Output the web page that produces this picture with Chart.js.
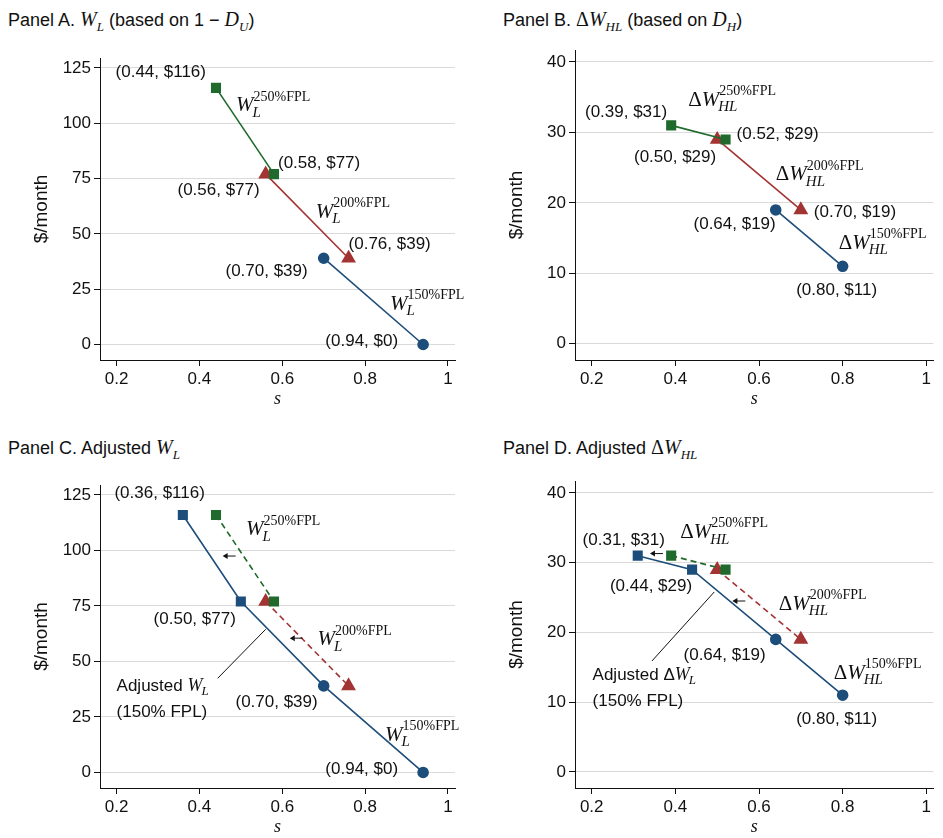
<!DOCTYPE html>
<html><head><meta charset="utf-8">
<script src="https://cdn.jsdelivr.net/npm/chart.js@4"></script>
<style>
body{margin:0;background:#fff;width:943px;height:838px;position:relative;overflow:hidden;font-family:"Liberation Sans",Arial,sans-serif}
canvas{position:absolute}
.t{position:absolute;font-size:18px;color:#111;white-space:nowrap}
.t i{font-family:"Liberation Serif",serif;font-size:20px}
.t sub{font-family:"Liberation Serif",serif;font-style:italic;font-size:13px}
.t span{font-family:"Liberation Serif",serif;font-size:20px}
</style></head><body>
<div class="t" style="left:8px;top:8px">Panel A. <i>W</i><sub>L</sub> (based on 1 − <i>D</i><sub>U</sub>)</div>
<div class="t" style="left:503px;top:8px">Panel B. <span>Δ</span><i>W</i><sub>HL</sub> (based on <i>D</i><sub>H</sub>)</div>
<div class="t" style="left:8px;top:436px">Panel C. Adjusted <i>W</i><sub>L</sub></div>
<div class="t" style="left:503px;top:436px">Panel D. Adjusted <span>Δ</span><i>W</i><sub>HL</sub></div>
<canvas id="a" width="471" height="419" style="left:0;top:0"></canvas>
<canvas id="b" width="471" height="419" style="left:471px;top:0"></canvas>
<canvas id="c" width="471" height="419" style="left:0;top:419px"></canvas>
<canvas id="d" width="471" height="419" style="left:471px;top:419px"></canvas>
<script>
// data
const xTicks = [0.2, 0.4, 0.6, 0.8, 1];
const wTicks = [0, 25, 50, 75, 100, 125];
const dTicks = [0, 10, 20, 30, 40];

const aGreen = [[0.44, 116], [0.58, 77]];
const aRed = [[0.56, 77], [0.76, 39]];
const aBlue = [[0.70, 39], [0.94, 0]];

const bGreen = [[0.39, 31], [0.52, 29]];
const bRed = [[0.50, 29], [0.70, 19]];
const bBlue = [[0.64, 19], [0.80, 11]];

const cAdjusted = [[0.36, 116], [0.50, 77], [0.70, 39], [0.94, 0]];
const dAdjusted = [[0.31, 31], [0.44, 29], [0.64, 19], [0.80, 11]];

const GREEN = '#1f6a2c', RED = '#a33434', BLUE = '#1d4d7a';
const LABEL_FONT = '17px "Liberation Sans"';

function pts(arr) { return arr.map(p => ({x: p[0], y: p[1]})); }
function seg(arr, color, style, dashed, styles) {
    const list = styles || arr.map(() => style);
    return {
        data: pts(arr), showLine: true, borderColor: color, backgroundColor: color,
        borderWidth: 1.6, borderDash: dashed ? [6, 4] : [],
        pointStyle: list, pointRadius: list.map(s => s === 'triangle' ? 7 : s === 'circle' ? 5 : 6),
        pointBorderColor: color, pointBackgroundColor: color
    };
}

// draws W_sub^sup with optional delta
function drawW(ctx, x, y, delta, sub, sup) {
    ctx.textBaseline = 'middle';
    ctx.textAlign = 'left';
    ctx.fillStyle = '#111';
    if (delta) {
        ctx.font = '21px "Liberation Serif"';
        ctx.fillText('Δ', x, y);
        x += ctx.measureText('Δ').width;
    }
    ctx.font = 'italic 21px "Liberation Serif"';
    ctx.fillText('W', x, y);
    x += ctx.measureText('W').width - 1;
    ctx.font = 'italic 15px "Liberation Serif"';
    ctx.fillText(sub, x, y + 7);
    ctx.font = '14px "Liberation Serif"';
    ctx.fillText(sup, x + 1, y - 9);
}

const notesPlugin = {
    id: 'notes',
    afterDatasetsDraw(chart) {
        const ctx = chart.ctx, xs = chart.scales.x, ys = chart.scales.y;
        const notes = chart.config.options.notes || [];
        ctx.save();
        notes.forEach(n => {
            const px = xs.getPixelForValue(n.at[0]) + (n.dx || 0);
            const py = ys.getPixelForValue(n.at[1]) + (n.dy || 0);
            if (n.w) {
                drawW(ctx, px, py, n.delta, n.sub, n.w);
            } else if (n.arrow) {
                ctx.strokeStyle = '#111'; ctx.fillStyle = '#111'; ctx.lineWidth = 1;
                ctx.beginPath(); ctx.moveTo(px + 6, py); ctx.lineTo(px - 4, py); ctx.stroke();
                ctx.beginPath(); ctx.moveTo(px - 7, py); ctx.lineTo(px - 2, py - 3); ctx.lineTo(px - 2, py + 3); ctx.fill();
            } else if (n.line) {
                const qx = xs.getPixelForValue(n.line[0]), qy = ys.getPixelForValue(n.line[1]);
                ctx.strokeStyle = '#111'; ctx.lineWidth = 1;
                ctx.beginPath(); ctx.moveTo(px, py); ctx.lineTo(qx, qy); ctx.stroke();
            } else if (n.adj) {
                ctx.fillStyle = '#111'; ctx.textBaseline = 'middle'; ctx.textAlign = 'left';
                ctx.font = LABEL_FONT;
                let t = n.delta ? 'Adjusted Δ' : 'Adjusted ';
                ctx.fillText(t, px, py);
                let x2 = px + ctx.measureText(t).width;
                ctx.font = 'italic 18px "Liberation Serif"';
                ctx.fillText('W', x2, py);
                x2 += ctx.measureText('W').width - 1;
                ctx.font = 'italic 13px "Liberation Serif"';
                ctx.fillText('L', x2, py + 5);
                ctx.font = LABEL_FONT;
                ctx.fillText('(150% FPL)', px, py + 26);
            } else {
                ctx.fillStyle = '#111'; ctx.textBaseline = 'middle';
                ctx.textAlign = n.align || 'left';
                ctx.font = LABEL_FONT;
                ctx.fillText(n.text, px, py);
            }
        });
        ctx.restore();
    }
};

function makeChart(id, datasets, yMin, yMax, yTicks, pad, notes) {
    new Chart(document.getElementById(id), {
        type: 'scatter',
        data: {datasets: datasets},
        plugins: [notesPlugin],
        options: {
            responsive: false, animation: false, notes: notes,
            layout: {padding: pad},
            plugins: {legend: {display: false}, tooltip: {enabled: false}},
            scales: {
                x: {
                    min: 0.16, max: 1.017,
                    afterBuildTicks: s => { s.ticks = xTicks.map(v => ({value: v})); },
                    afterFit: s => { s.height = 50; },
                    ticks: {color: '#111', font: {size: 17, family: 'Liberation Sans'}, callback: v => v === 1 ? '1' : v.toFixed(1)},
                    grid: {drawOnChartArea: false, tickLength: 6, tickColor: '#111'},
                    border: {color: '#111'},
                    title: {display: true, text: 's', color: '#111', padding: 0, font: {size: 18, style: 'italic', family: 'Liberation Serif'}}
                },
                y: {
                    min: yMin, max: yMax,
                    afterBuildTicks: s => { s.ticks = yTicks.map(v => ({value: v})); },
                    afterFit: s => { s.width = 72; },
                    ticks: {color: '#111', font: {size: 17, family: 'Liberation Sans'}},
                    grid: {color: '#dadada', tickLength: 6, tickColor: '#111'},
                    border: {color: '#111'},
                    title: {display: true, text: '$/month', color: '#111', padding: 2, font: {size: 19, family: 'Liberation Sans'}}
                }
            }
        }
    });
}

makeChart('a', [
    seg(aGreen, GREEN, 'rect'), seg(aRed, RED, 'triangle'), seg(aBlue, BLUE, 'circle')
], -7, 129.5, wTicks, {left: 28, right: 16, top: 58, bottom: 9}, [
    {at: aGreen[0], dx: -10, dy: -16, align: 'right', text: '(0.44, $116)'},
    {at: aGreen[0], dx: 20, dy: 18, w: '250%FPL', sub: 'L'},
    {at: aGreen[1], dx: 4, dy: -11, text: '(0.58, $77)'},
    {at: aRed[0], dx: -6, dy: 16, align: 'right', text: '(0.56, $77)'},
    {at: aRed[0], dx: 50, dy: 38, w: '200%FPL', sub: 'L'},
    {at: aRed[1], dx: 0, dy: -14, text: '(0.76, $39)'},
    {at: aBlue[0], dx: -16, dy: 13, align: 'right', text: '(0.70, $39)'},
    {at: aBlue[1], dx: -33, dy: -40, w: '150%FPL', sub: 'L'},
    {at: aBlue[1], dx: -25, dy: -3, align: 'right', text: '(0.94, $0)'}
]);

makeChart('b', [
    seg(bGreen, GREEN, 'rect'), seg(bRed, RED, 'triangle'), seg(bBlue, BLUE, 'circle')
], -2.3, 41.7, dTicks, {left: 32, right: 2, top: 50, bottom: 9}, [
    {at: bGreen[0], dx: -4, dy: -13, align: 'right', text: '(0.39, $31)'},
    {at: bGreen[0], dx: 17, dy: -25, w: '250%FPL', sub: 'HL', delta: true},
    {at: bGreen[1], dx: 11, dy: -5, text: '(0.52, $29)'},
    {at: bRed[0], dx: -1, dy: 18, align: 'right', text: '(0.50, $29)'},
    {at: bRed[1], dx: -25, dy: -35, w: '200%FPL', sub: 'HL', delta: true},
    {at: bRed[1], dx: 13, dy: 2, text: '(0.70, $19)'},
    {at: bBlue[0], dx: 0, dy: 14, align: 'right', text: '(0.64, $19)'},
    {at: bBlue[1], dx: -4, dy: -23, w: '150%FPL', sub: 'HL', delta: true},
    {at: bBlue[1], dx: -6, dy: 24, align: 'center', text: '(0.80, $11)'}
]);

makeChart('c', [
    seg(aGreen, GREEN, 'rect', true), seg(aRed, RED, 'triangle', true),
    seg(cAdjusted, BLUE, 'rect', false, ['rect', 'rect', 'circle', 'circle'])
], -7, 129.5, wTicks, {left: 28, right: 16, top: 66, bottom: 0}, [
    {at: cAdjusted[0], dx: 22, dy: -22, align: 'right', text: '(0.36, $116)'},
    {at: aGreen[0], dx: 30, dy: 15, w: '250%FPL', sub: 'L'},
    {at: [0.473, 97.5], arrow: true},
    {at: [0.635, 60.5], arrow: true},
    {at: cAdjusted[1], dx: -5, dy: 18, align: 'right', text: '(0.50, $77)'},
    {at: aRed[1], dx: -31, dy: -46, w: '200%FPL', sub: 'L'},
    {at: [0.444, 42.4], line: [0.56, 64.5]},
    {at: [0.2, 38.8], adj: true},
    {at: cAdjusted[2], dx: -6, dy: 16, align: 'right', text: '(0.70, $39)'},
    {at: cAdjusted[3], dx: -38, dy: -37, w: '150%FPL', sub: 'L'},
    {at: cAdjusted[3], dx: -25, dy: -3, align: 'right', text: '(0.94, $0)'}
]);

makeChart('d', [
    seg(bGreen, GREEN, 'rect', true), seg(bRed, RED, 'triangle', true),
    seg(dAdjusted, BLUE, 'rect', false, ['rect', 'rect', 'circle', 'circle'])
], -2.3, 41.7, dTicks, {left: 32, right: 2, top: 62, bottom: 0}, [
    {at: dAdjusted[0], dx: -14, dy: -15, align: 'center', text: '(0.31, $31)'},
    {at: bGreen[0], dx: 9, dy: -23, w: '250%FPL', sub: 'HL', delta: true},
    {at: [0.356, 31.3], arrow: true},
    {at: [0.553, 24.5], arrow: true},
    {at: dAdjusted[1], dx: 0, dy: 17, align: 'right', text: '(0.44, $29)'},
    {at: bRed[1], dx: -22, dy: -35, w: '200%FPL', sub: 'HL', delta: true},
    {at: dAdjusted[2], dx: -10, dy: 16, align: 'right', text: '(0.64, $19)'},
    {at: [0.344, 15.9], line: [0.493, 25.8]},
    {at: [0.202, 13.8], adj: true, delta: true},
    {at: dAdjusted[3], dx: -9, dy: -22, w: '150%FPL', sub: 'HL', delta: true},
    {at: dAdjusted[3], dx: -6, dy: 24, align: 'center', text: '(0.80, $11)'}
]);
</script>
</body></html>
